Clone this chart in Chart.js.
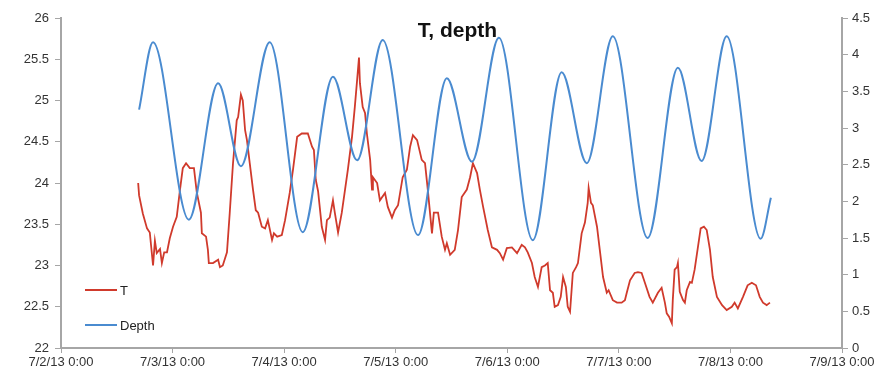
<!doctype html>
<html lang="en">
<head>
<meta charset="utf-8">
<title>T, depth</title>
<script src="https://cdn.jsdelivr.net/npm/chart.js"></script>
<style>
    html, body {
        margin: 0;
        padding: 0;
        background: #fff;
    }
    #wrap {
        width: 886px;
        height: 381px;
        position: relative;
    }
</style>
</head>
<body>
<div id="wrap"><canvas id="chart"></canvas></div>
<script>
    // hours since 7/2/13 0:00
    const tHours = [
        16.6, 16.8, 17.6, 18.5, 19.1, 19.8, 20.2, 20.6, 21.3, 21.7, 22.2, 22.8, 23.4, 24.1, 24.9, 25.6,
        26.2, 26.9, 27.7, 28.6, 29.2, 30.1, 30.3, 31.2, 31.6, 31.8, 32.7, 33.8, 34.2, 34.8, 35.7, 36.3,
        37.0, 37.8, 38.1, 38.7, 39.1, 39.6, 40.0, 40.6, 41.3, 41.9, 42.4, 43.2, 43.9, 44.5, 45.4, 45.8,
        46.5, 47.5, 48.2, 49.2, 49.9, 50.8, 51.8, 53.1, 54.0, 54.4, 54.8, 55.3, 56.1, 56.8, 57.2, 57.8,
        58.5, 58.9, 59.6, 60.4, 61.1, 61.7, 62.6, 63.2, 63.7, 64.1, 64.3, 64.9, 65.4, 65.8, 66.5, 66.9,
        67.1, 68.0, 68.6, 69.7, 70.3, 71.2, 71.8, 72.5, 73.5, 74.4, 75.1, 75.7, 76.6, 77.6, 78.3, 78.9,
        79.8, 80.2, 81.1, 81.9, 82.6, 83.0, 83.7, 84.7, 85.4, 86.2, 87.3, 88.0, 88.6, 89.5, 90.1, 90.8,
        91.8, 92.7, 93.8, 94.4, 95.1, 95.9, 97.0, 98.1, 99.1, 99.8, 100.4, 101.3, 101.9, 102.6, 103.4, 104.1,
        104.7, 105.2, 105.8, 106.2, 106.9, 107.5, 108.0, 108.6, 109.0, 109.5, 110.1, 110.8, 111.2, 112.0, 112.7, 113.3,
        113.5, 114.0, 114.4, 115.3, 115.9, 116.6, 117.4, 117.8, 118.7, 119.6, 120.6, 121.3, 121.7, 122.4, 123.4, 124.1,
        124.9, 125.6, 126.6, 127.3, 128.4, 129.2, 129.9, 130.3, 130.8, 131.4, 131.6, 132.0, 132.5, 132.7, 133.1, 133.8,
        134.2, 134.6, 135.3, 135.7, 136.3, 137.0, 137.6, 138.3, 138.9, 139.6, 140.2, 141.1, 142.2, 143.2, 144.3, 144.9,
        145.6, 146.7, 147.7, 148.6, 149.5, 150.3, 151.0, 151.8, 152.5
    ];
    const tValues = [
        24.0, 23.85, 23.63, 23.45, 23.4, 23.0, 23.3, 23.15, 23.2, 23.03, 23.16, 23.16, 23.33, 23.47, 23.59, 23.92,
        24.18, 24.24, 24.18, 24.18, 23.89, 23.64, 23.39, 23.35, 23.19, 23.03, 23.03, 23.07, 22.98, 23.0, 23.16, 23.64,
        24.24, 24.76, 24.8, 25.07, 25.0, 24.64, 24.52, 24.24, 23.92, 23.67, 23.64, 23.47, 23.45, 23.55, 23.31, 23.39,
        23.35, 23.37, 23.55, 23.88, 24.16, 24.56, 24.6, 24.6, 24.44, 24.4, 24.04, 23.9, 23.47, 23.31, 23.55, 23.58,
        23.79, 23.64, 23.4, 23.64, 23.92, 24.16, 24.56, 24.92, 25.25, 25.52, 25.21, 24.92, 24.85, 24.6, 24.28, 23.92,
        24.07, 24.0, 23.79, 23.88, 23.71, 23.58, 23.67, 23.73, 24.07, 24.16, 24.44, 24.58, 24.52, 24.28, 24.24, 23.92,
        23.39, 23.64, 23.64, 23.35, 23.19, 23.27, 23.13, 23.19, 23.43, 23.83, 23.92, 24.07, 24.24, 24.12, 23.92, 23.71,
        23.43, 23.22, 23.19, 23.15, 23.07, 23.21, 23.22, 23.15, 23.25, 23.22, 23.16, 23.03, 22.86, 22.74, 22.98, 23.0,
        23.03, 22.7, 22.67, 22.5, 22.52, 22.62, 22.86, 22.74, 22.5, 22.44, 22.91, 22.98, 23.03, 23.39, 23.52, 23.76,
        23.94, 23.76, 23.73, 23.47, 23.19, 22.86, 22.67, 22.7, 22.58, 22.55, 22.55, 22.58, 22.67, 22.82, 22.91, 22.92,
        22.91, 22.79, 22.62, 22.55, 22.67, 22.73, 22.55, 22.42, 22.38, 22.3, 22.58, 22.95, 22.98, 23.03, 22.68, 22.58,
        22.55, 22.7, 22.8, 22.79, 22.95, 23.22, 23.45, 23.47, 23.43, 23.19, 22.86, 22.62, 22.52, 22.46, 22.5, 22.55,
        22.48, 22.62, 22.76, 22.79, 22.76, 22.62, 22.55, 22.52, 22.55
    ];
    const depthHours = [
        16.8, 19.8, 27.5, 33.8, 38.7, 44.9, 52.0, 58.5, 63.7, 69.2, 76.8, 83.0,
        88.4, 94.2, 101.5, 107.7, 113.1, 118.7, 126.2, 132.7, 137.8, 143.2, 150.5, 152.7
    ];
    const depthValues = [
        3.25, 4.17, 1.75, 3.61, 2.48, 4.17, 1.58, 3.70, 2.56, 4.2, 1.54, 3.68,
        2.54, 4.23, 1.47, 3.76, 2.52, 4.25, 1.5, 3.82, 2.55, 4.25, 1.49, 2.05
    ];
    const dayLabels = ['7/2/13 0:00', '7/3/13 0:00', '7/4/13 0:00', '7/5/13 0:00',
        '7/6/13 0:00', '7/7/13 0:00', '7/8/13 0:00', '7/9/13 0:00'];

    const FONT = '"Liberation Sans", Arial, sans-serif';
    const AXIS = '#a6a6a6';

    const overlay = {
        id: 'overlay',
        afterDraw(chart) {
            const ctx = chart.ctx, a = chart.chartArea;
            ctx.save();
            ctx.fillStyle = '#111';
            ctx.font = 'bold 21px ' + FONT;
            ctx.textAlign = 'center';
            ctx.textBaseline = 'middle';
            ctx.fillText('T, depth', (a.left + a.right) / 2 + 6, a.top + 13);

            ctx.font = '13px ' + FONT;
            ctx.textAlign = 'left';
            chart.data.datasets.forEach((ds, i) => {
                const y = a.top + 272 + i * 35;
                ctx.strokeStyle = ds.borderColor;
                ctx.lineWidth = 2;
                ctx.beginPath();
                ctx.moveTo(a.left + 24, y);
                ctx.lineTo(a.left + 56, y);
                ctx.stroke();
                ctx.fillStyle = '#222';
                ctx.fillText(ds.label, a.left + 59, y + 1);
            });
            ctx.restore();
        }
    };

    const tickFont = { family: FONT, size: 13 };
    const plainNumber = v => String(v);

    new Chart(document.getElementById('chart'), {
        type: 'line',
        data: {
            datasets: [
                {
                    label: 'T',
                    data: tHours.map((h, i) => ({ x: h, y: tValues[i] })),
                    yAxisID: 'y',
                    borderColor: '#d03a2c',
                    borderWidth: 1.8,
                    pointRadius: 0,
                    tension: 0,
                    fill: false,
                    order: 1
                },
                {
                    label: 'Depth',
                    data: depthHours.map((h, i) => ({ x: h, y: depthValues[i] })),
                    yAxisID: 'y2',
                    borderColor: '#4a8bd0',
                    borderWidth: 2,
                    pointRadius: 0,
                    cubicInterpolationMode: 'monotone',
                    fill: false,
                    order: 0
                }
            ]
        },
        options: {
            responsive: true,
            maintainAspectRatio: false,
            animation: false,
            layout: { padding: { top: 18, left: 0, right: 0, bottom: 0 } },
            plugins: {
                legend: { display: false },
                title: { display: false },
                tooltip: { enabled: false }
            },
            scales: {
                x: {
                    type: 'linear',
                    min: 0,
                    max: 168,
                    afterFit: s => { s.height = 33; },
                    ticks: {
                        stepSize: 24,
                        autoSkip: false,
                        maxRotation: 0,
                        padding: 2,
                        color: '#333',
                        font: tickFont,
                        callback: v => dayLabels[v / 24]
                    },
                    grid: { drawOnChartArea: false, drawTicks: true, tickLength: 5, color: AXIS },
                    border: { color: AXIS, width: 2 }
                },
                y: {
                    position: 'left',
                    min: 22,
                    max: 26,
                    afterFit: s => { s.width = 61; },
                    ticks: { stepSize: 0.5, padding: 6, color: '#333', font: tickFont, callback: plainNumber },
                    grid: { drawOnChartArea: false, drawTicks: true, tickLength: 6, color: AXIS },
                    border: { color: AXIS, width: 2 }
                },
                y2: {
                    position: 'right',
                    min: 0,
                    max: 4.5,
                    afterFit: s => { s.width = 44; },
                    ticks: { stepSize: 0.5, padding: 4, color: '#333', font: tickFont, callback: plainNumber },
                    grid: { drawOnChartArea: false, drawTicks: true, tickLength: 6, color: AXIS },
                    border: { color: AXIS, width: 2 }
                }
            }
        },
        plugins: [overlay]
    });
</script>
</body>
</html>
